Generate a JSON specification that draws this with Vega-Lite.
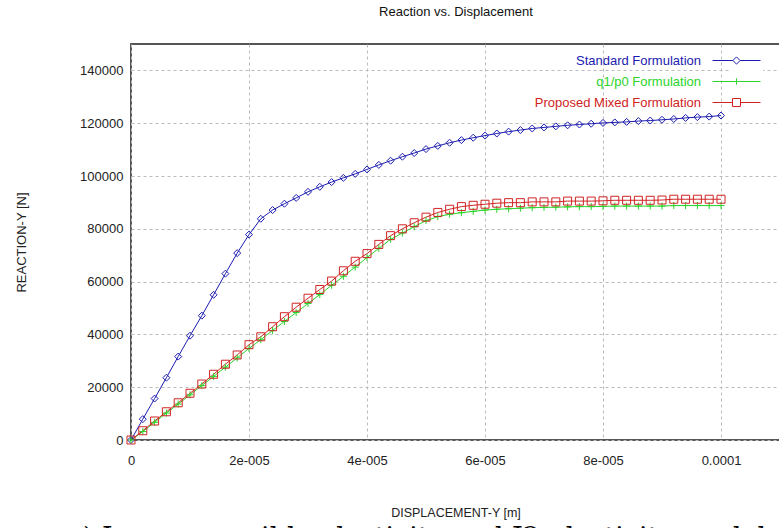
{
  "$schema": "https://vega.github.io/schema/vega-lite/v6.json",
  "autosize": "none",
  "width": 649,
  "height": 396,
  "padding": {"left": 131, "top": 44, "right": 0, "bottom": 88},
  "background": "white",
  "config": {
    "view": {"stroke": "#555555", "strokeWidth": 2},
    "font": "Liberation Sans",
    "legend": {
      "title": null,
      "orient": "none",
      "legendX": 599,
      "legendY": 10,
      "symbolSize": 64,
      "symbolStrokeWidth": 1,
      "labelFontSize": 13,
      "labelFont": "Liberation Sans",
      "labelLimit": 400,
      "labelAlign": "right",
      "labelOffset": -42,
      "rowPadding": 7,
      "padding": 0,
      "fillColor": "white"
    }
  },
  "title": {
    "text": ") Incompressible elasticity and J2 plasticity model",
    "orient": "bottom",
    "anchor": "start",
    "frame": "group",
    "dx": -48,
    "offset": 7,
    "font": "DejaVu Serif",
    "fontSize": 27,
    "fontWeight": "normal",
    "color": "#000000"
  },
  "data": {
    "values": [
      {"s": "Standard Formulation", "x": 0, "y": 0},
      {"s": "Standard Formulation", "x": 2e-6, "y": 7900},
      {"s": "Standard Formulation", "x": 4e-6, "y": 15700},
      {"s": "Standard Formulation", "x": 6e-6, "y": 23600},
      {"s": "Standard Formulation", "x": 8e-6, "y": 31600},
      {"s": "Standard Formulation", "x": 1e-5, "y": 39500},
      {"s": "Standard Formulation", "x": 1.2e-5, "y": 47100},
      {"s": "Standard Formulation", "x": 1.4e-5, "y": 55000},
      {"s": "Standard Formulation", "x": 1.6e-5, "y": 63000},
      {"s": "Standard Formulation", "x": 1.8e-5, "y": 70800},
      {"s": "Standard Formulation", "x": 2e-5, "y": 77800},
      {"s": "Standard Formulation", "x": 2.2e-5, "y": 83800},
      {"s": "Standard Formulation", "x": 2.4e-5, "y": 87100},
      {"s": "Standard Formulation", "x": 2.6e-5, "y": 89500},
      {"s": "Standard Formulation", "x": 2.8e-5, "y": 91700},
      {"s": "Standard Formulation", "x": 3e-5, "y": 94000},
      {"s": "Standard Formulation", "x": 3.2e-5, "y": 95900},
      {"s": "Standard Formulation", "x": 3.4e-5, "y": 97700},
      {"s": "Standard Formulation", "x": 3.6e-5, "y": 99300},
      {"s": "Standard Formulation", "x": 3.8e-5, "y": 100800},
      {"s": "Standard Formulation", "x": 4e-5, "y": 102500},
      {"s": "Standard Formulation", "x": 4.2e-5, "y": 104200},
      {"s": "Standard Formulation", "x": 4.4e-5, "y": 105800},
      {"s": "Standard Formulation", "x": 4.6e-5, "y": 107300},
      {"s": "Standard Formulation", "x": 4.8e-5, "y": 108700},
      {"s": "Standard Formulation", "x": 5e-5, "y": 110200},
      {"s": "Standard Formulation", "x": 5.2e-5, "y": 111400},
      {"s": "Standard Formulation", "x": 5.4e-5, "y": 112600},
      {"s": "Standard Formulation", "x": 5.6e-5, "y": 113600},
      {"s": "Standard Formulation", "x": 5.8e-5, "y": 114500},
      {"s": "Standard Formulation", "x": 6e-5, "y": 115300},
      {"s": "Standard Formulation", "x": 6.2e-5, "y": 116100},
      {"s": "Standard Formulation", "x": 6.4e-5, "y": 116800},
      {"s": "Standard Formulation", "x": 6.6e-5, "y": 117400},
      {"s": "Standard Formulation", "x": 6.8e-5, "y": 118000},
      {"s": "Standard Formulation", "x": 7e-5, "y": 118400},
      {"s": "Standard Formulation", "x": 7.2e-5, "y": 118800},
      {"s": "Standard Formulation", "x": 7.4e-5, "y": 119200},
      {"s": "Standard Formulation", "x": 7.6e-5, "y": 119500},
      {"s": "Standard Formulation", "x": 7.8e-5, "y": 119800},
      {"s": "Standard Formulation", "x": 8e-5, "y": 120100},
      {"s": "Standard Formulation", "x": 8.2e-5, "y": 120300},
      {"s": "Standard Formulation", "x": 8.4e-5, "y": 120500},
      {"s": "Standard Formulation", "x": 8.6e-5, "y": 120800},
      {"s": "Standard Formulation", "x": 8.8e-5, "y": 121000},
      {"s": "Standard Formulation", "x": 9e-5, "y": 121300},
      {"s": "Standard Formulation", "x": 9.2e-5, "y": 121600},
      {"s": "Standard Formulation", "x": 9.4e-5, "y": 122000},
      {"s": "Standard Formulation", "x": 9.6e-5, "y": 122300},
      {"s": "Standard Formulation", "x": 9.8e-5, "y": 122500},
      {"s": "Standard Formulation", "x": 1e-4, "y": 122900},
      {"s": "q1/p0 Formulation", "x": 0, "y": 0},
      {"s": "q1/p0 Formulation", "x": 2e-6, "y": 3200},
      {"s": "q1/p0 Formulation", "x": 4e-6, "y": 6700},
      {"s": "q1/p0 Formulation", "x": 6e-6, "y": 10200},
      {"s": "q1/p0 Formulation", "x": 8e-6, "y": 13600},
      {"s": "q1/p0 Formulation", "x": 1e-5, "y": 17100},
      {"s": "q1/p0 Formulation", "x": 1.2e-5, "y": 20600},
      {"s": "q1/p0 Formulation", "x": 1.4e-5, "y": 24100},
      {"s": "q1/p0 Formulation", "x": 1.6e-5, "y": 27600},
      {"s": "q1/p0 Formulation", "x": 1.8e-5, "y": 31100},
      {"s": "q1/p0 Formulation", "x": 2e-5, "y": 34700},
      {"s": "q1/p0 Formulation", "x": 2.2e-5, "y": 38000},
      {"s": "q1/p0 Formulation", "x": 2.4e-5, "y": 41500},
      {"s": "q1/p0 Formulation", "x": 2.6e-5, "y": 44900},
      {"s": "q1/p0 Formulation", "x": 2.8e-5, "y": 48300},
      {"s": "q1/p0 Formulation", "x": 3e-5, "y": 51700},
      {"s": "q1/p0 Formulation", "x": 3.2e-5, "y": 55100},
      {"s": "q1/p0 Formulation", "x": 3.4e-5, "y": 58600},
      {"s": "q1/p0 Formulation", "x": 3.6e-5, "y": 62000},
      {"s": "q1/p0 Formulation", "x": 3.8e-5, "y": 65500},
      {"s": "q1/p0 Formulation", "x": 4e-5, "y": 69100},
      {"s": "q1/p0 Formulation", "x": 4.2e-5, "y": 72600},
      {"s": "q1/p0 Formulation", "x": 4.4e-5, "y": 76000},
      {"s": "q1/p0 Formulation", "x": 4.6e-5, "y": 78400},
      {"s": "q1/p0 Formulation", "x": 4.8e-5, "y": 80800},
      {"s": "q1/p0 Formulation", "x": 5e-5, "y": 83100},
      {"s": "q1/p0 Formulation", "x": 5.2e-5, "y": 84600},
      {"s": "q1/p0 Formulation", "x": 5.4e-5, "y": 85500},
      {"s": "q1/p0 Formulation", "x": 5.6e-5, "y": 86100},
      {"s": "q1/p0 Formulation", "x": 5.8e-5, "y": 86600},
      {"s": "q1/p0 Formulation", "x": 6e-5, "y": 87100},
      {"s": "q1/p0 Formulation", "x": 6.2e-5, "y": 87400},
      {"s": "q1/p0 Formulation", "x": 6.4e-5, "y": 87600},
      {"s": "q1/p0 Formulation", "x": 6.6e-5, "y": 87800},
      {"s": "q1/p0 Formulation", "x": 6.8e-5, "y": 88000},
      {"s": "q1/p0 Formulation", "x": 7e-5, "y": 88100},
      {"s": "q1/p0 Formulation", "x": 7.2e-5, "y": 88200},
      {"s": "q1/p0 Formulation", "x": 7.4e-5, "y": 88300},
      {"s": "q1/p0 Formulation", "x": 7.6e-5, "y": 88400},
      {"s": "q1/p0 Formulation", "x": 7.8e-5, "y": 88400},
      {"s": "q1/p0 Formulation", "x": 8e-5, "y": 88500},
      {"s": "q1/p0 Formulation", "x": 8.2e-5, "y": 88600},
      {"s": "q1/p0 Formulation", "x": 8.4e-5, "y": 88600},
      {"s": "q1/p0 Formulation", "x": 8.6e-5, "y": 88600},
      {"s": "q1/p0 Formulation", "x": 8.8e-5, "y": 88600},
      {"s": "q1/p0 Formulation", "x": 9e-5, "y": 88600},
      {"s": "q1/p0 Formulation", "x": 9.2e-5, "y": 88800},
      {"s": "q1/p0 Formulation", "x": 9.4e-5, "y": 88800},
      {"s": "q1/p0 Formulation", "x": 9.6e-5, "y": 88800},
      {"s": "q1/p0 Formulation", "x": 9.8e-5, "y": 88800},
      {"s": "q1/p0 Formulation", "x": 1e-4, "y": 88800},
      {"s": "Proposed Mixed Formulation", "x": 0, "y": 0},
      {"s": "Proposed Mixed Formulation", "x": 2e-6, "y": 3500},
      {"s": "Proposed Mixed Formulation", "x": 4e-6, "y": 7200},
      {"s": "Proposed Mixed Formulation", "x": 6e-6, "y": 10700},
      {"s": "Proposed Mixed Formulation", "x": 8e-6, "y": 14100},
      {"s": "Proposed Mixed Formulation", "x": 1e-5, "y": 17700},
      {"s": "Proposed Mixed Formulation", "x": 1.2e-5, "y": 21200},
      {"s": "Proposed Mixed Formulation", "x": 1.4e-5, "y": 24900},
      {"s": "Proposed Mixed Formulation", "x": 1.6e-5, "y": 28700},
      {"s": "Proposed Mixed Formulation", "x": 1.8e-5, "y": 32200},
      {"s": "Proposed Mixed Formulation", "x": 2e-5, "y": 36100},
      {"s": "Proposed Mixed Formulation", "x": 2.2e-5, "y": 39100},
      {"s": "Proposed Mixed Formulation", "x": 2.4e-5, "y": 42900},
      {"s": "Proposed Mixed Formulation", "x": 2.6e-5, "y": 46700},
      {"s": "Proposed Mixed Formulation", "x": 2.8e-5, "y": 50300},
      {"s": "Proposed Mixed Formulation", "x": 3e-5, "y": 53700},
      {"s": "Proposed Mixed Formulation", "x": 3.2e-5, "y": 57000},
      {"s": "Proposed Mixed Formulation", "x": 3.4e-5, "y": 60200},
      {"s": "Proposed Mixed Formulation", "x": 3.6e-5, "y": 64100},
      {"s": "Proposed Mixed Formulation", "x": 3.8e-5, "y": 67700},
      {"s": "Proposed Mixed Formulation", "x": 4e-5, "y": 70600},
      {"s": "Proposed Mixed Formulation", "x": 4.2e-5, "y": 74100},
      {"s": "Proposed Mixed Formulation", "x": 4.4e-5, "y": 77400},
      {"s": "Proposed Mixed Formulation", "x": 4.6e-5, "y": 80000},
      {"s": "Proposed Mixed Formulation", "x": 4.8e-5, "y": 82300},
      {"s": "Proposed Mixed Formulation", "x": 5e-5, "y": 84400},
      {"s": "Proposed Mixed Formulation", "x": 5.2e-5, "y": 86200},
      {"s": "Proposed Mixed Formulation", "x": 5.4e-5, "y": 87400},
      {"s": "Proposed Mixed Formulation", "x": 5.6e-5, "y": 88400},
      {"s": "Proposed Mixed Formulation", "x": 5.8e-5, "y": 88900},
      {"s": "Proposed Mixed Formulation", "x": 6e-5, "y": 89300},
      {"s": "Proposed Mixed Formulation", "x": 6.2e-5, "y": 89700},
      {"s": "Proposed Mixed Formulation", "x": 6.4e-5, "y": 89900},
      {"s": "Proposed Mixed Formulation", "x": 6.6e-5, "y": 89900},
      {"s": "Proposed Mixed Formulation", "x": 6.8e-5, "y": 90200},
      {"s": "Proposed Mixed Formulation", "x": 7e-5, "y": 90200},
      {"s": "Proposed Mixed Formulation", "x": 7.2e-5, "y": 90200},
      {"s": "Proposed Mixed Formulation", "x": 7.4e-5, "y": 90500},
      {"s": "Proposed Mixed Formulation", "x": 7.6e-5, "y": 90500},
      {"s": "Proposed Mixed Formulation", "x": 7.8e-5, "y": 90500},
      {"s": "Proposed Mixed Formulation", "x": 8e-5, "y": 90600},
      {"s": "Proposed Mixed Formulation", "x": 8.2e-5, "y": 90800},
      {"s": "Proposed Mixed Formulation", "x": 8.4e-5, "y": 90800},
      {"s": "Proposed Mixed Formulation", "x": 8.6e-5, "y": 90800},
      {"s": "Proposed Mixed Formulation", "x": 8.8e-5, "y": 90800},
      {"s": "Proposed Mixed Formulation", "x": 9e-5, "y": 90900},
      {"s": "Proposed Mixed Formulation", "x": 9.2e-5, "y": 91200},
      {"s": "Proposed Mixed Formulation", "x": 9.4e-5, "y": 91200},
      {"s": "Proposed Mixed Formulation", "x": 9.6e-5, "y": 91200},
      {"s": "Proposed Mixed Formulation", "x": 9.8e-5, "y": 91200},
      {"s": "Proposed Mixed Formulation", "x": 1e-4, "y": 91200}
    ]
  },
  "layer": [
    {
      "layer": [
        {
          "mark": {"type": "line", "strokeWidth": 1},
          "encoding": {
            "x": {
              "field": "x", "type": "quantitative",
              "scale": {"domain": [0, 0.00011], "nice": false, "zero": false},
              "axis": {
                "values": [0, 0.00002, 0.00004, 0.00006, 0.00008, 0.0001],
                "labelExpr": "datum.value < 1e-7 ? '0' : datum.value > 0.00009 ? '0.0001' : format(datum.value * 100000, 'd') + 'e-005'",
                "labelFlush": false,
                "labelOverlap": false,
                "labelFontSize": 13,
                "labelColor": "#222222",
                "labelPadding": 14,
                "ticks": false,
                "domain": false,
                "grid": true,
                "gridDash": [3, 3],
                "gridColor": "#bbbbbb",
                "gridWidth": 1,
                "title": "DISPLACEMENT-Y [m]",
                "titleFontSize": 12.5,
                "titleFontWeight": "normal",
                "titleColor": "#222222",
                "titlePadding": 39
              }
            },
            "y": {
              "field": "y", "type": "quantitative",
              "scale": {"domain": [0, 150000], "nice": false},
              "axis": {
                "values": [0, 20000, 40000, 60000, 80000, 100000, 120000, 140000],
                "format": "d",
                "labelFontSize": 13,
                "labelColor": "#222222",
                "labelPadding": 8,
                "ticks": false,
                "domain": false,
                "grid": true,
                "gridDash": [3, 3],
                "gridColor": "#bbbbbb",
                "gridWidth": 1,
                "title": "REACTION-Y [N]",
                "titleFontSize": 13,
                "titleFontWeight": "normal",
                "titleColor": "#222222",
                "titlePadding": 51
              }
            },
            "color": {
              "field": "s", "type": "nominal",
              "scale": {
                "domain": ["Standard Formulation", "q1/p0 Formulation", "Proposed Mixed Formulation"],
                "range": ["#1c1cb0", "#2ad42a", "#d02424"]
              },
              "legend": {
                "encode": {
                  "labels": {"update": {"fill": {"signal": "scale('color', datum.value)"}}},
                  "symbols": {"update": {
                    "shape": {"signal": "datum.value === 'Standard Formulation' ? 'M-6,0H-0.9M0.9,0H6M0,-0.9L0.9,0L0,0.9L-0.9,0Z' : datum.value === 'q1/p0 Formulation' ? 'M-6,0H6M0,-0.8V0.8' : 'M-6,0H-1M1,0H6M-1,-1H1V1H-1Z'"},
                    "size": {"value": 64},
                    "fill": {"value": "transparent"},
                    "stroke": {"signal": "scale('color', datum.value)"},
                    "strokeWidth": {"value": 1},
                    "opacity": {"value": 1}
                  }}
                }
              }
            },
            "order": {"field": "x", "type": "quantitative"}
          }
        },
        {
          "transform": [{"filter": "datum.s === 'Standard Formulation'"}],
          "mark": {"type": "point", "filled": false, "strokeWidth": 1, "opacity": 1, "shape": "diamond", "size": 49},
          "encoding": {
            "x": {"field": "x", "type": "quantitative"},
            "y": {"field": "y", "type": "quantitative"},
            "color": {
              "field": "s", "type": "nominal",
              "legend": {
                "encode": {
                  "labels": {"update": {"fill": {"signal": "scale('color', datum.value)"}}},
                  "symbols": {"update": {
                    "shape": {"signal": "datum.value === 'Standard Formulation' ? 'M-6,0H-0.9M0.9,0H6M0,-0.9L0.9,0L0,0.9L-0.9,0Z' : datum.value === 'q1/p0 Formulation' ? 'M-6,0H6M0,-0.8V0.8' : 'M-6,0H-1M1,0H6M-1,-1H1V1H-1Z'"},
                    "size": {"value": 64},
                    "fill": {"value": "transparent"},
                    "stroke": {"signal": "scale('color', datum.value)"},
                    "strokeWidth": {"value": 1},
                    "opacity": {"value": 1}
                  }}
                }
              }
            }
          }
        },
        {
          "transform": [{"filter": "datum.s === 'q1/p0 Formulation'"}],
          "mark": {"type": "point", "filled": false, "strokeWidth": 1, "opacity": 1, "shape": "M-1,0H1M0,-1V1", "size": 49},
          "encoding": {
            "x": {"field": "x", "type": "quantitative"},
            "y": {"field": "y", "type": "quantitative"},
            "color": {
              "field": "s", "type": "nominal",
              "legend": {
                "encode": {
                  "labels": {"update": {"fill": {"signal": "scale('color', datum.value)"}}},
                  "symbols": {"update": {
                    "shape": {"signal": "datum.value === 'Standard Formulation' ? 'M-6,0H-0.9M0.9,0H6M0,-0.9L0.9,0L0,0.9L-0.9,0Z' : datum.value === 'q1/p0 Formulation' ? 'M-6,0H6M0,-0.8V0.8' : 'M-6,0H-1M1,0H6M-1,-1H1V1H-1Z'"},
                    "size": {"value": 64},
                    "fill": {"value": "transparent"},
                    "stroke": {"signal": "scale('color', datum.value)"},
                    "strokeWidth": {"value": 1},
                    "opacity": {"value": 1}
                  }}
                }
              }
            }
          }
        },
        {
          "transform": [{"filter": "datum.s === 'Proposed Mixed Formulation'"}],
          "mark": {"type": "point", "filled": false, "strokeWidth": 1, "opacity": 1, "shape": "square", "size": 64},
          "encoding": {
            "x": {"field": "x", "type": "quantitative"},
            "y": {"field": "y", "type": "quantitative"},
            "color": {
              "field": "s", "type": "nominal",
              "legend": {
                "encode": {
                  "labels": {"update": {"fill": {"signal": "scale('color', datum.value)"}}},
                  "symbols": {"update": {
                    "shape": {"signal": "datum.value === 'Standard Formulation' ? 'M-6,0H-0.9M0.9,0H6M0,-0.9L0.9,0L0,0.9L-0.9,0Z' : datum.value === 'q1/p0 Formulation' ? 'M-6,0H6M0,-0.8V0.8' : 'M-6,0H-1M1,0H6M-1,-1H1V1H-1Z'"},
                    "size": {"value": 64},
                    "fill": {"value": "transparent"},
                    "stroke": {"signal": "scale('color', datum.value)"},
                    "strokeWidth": {"value": 1},
                    "opacity": {"value": 1}
                  }}
                }
              }
            }
          }
        }
      ]
    },
    {
      "mark": {"type": "point", "opacity": 0},
      "encoding": {
        "x": {
          "field": "x", "type": "quantitative",
          "scale": {"domain": [0, 0.00011], "nice": false, "zero": false},
          "axis": {
            "orient": "top",
            "labels": false,
            "ticks": false,
            "domain": false,
            "grid": false,
            "title": "Reaction vs. Displacement",
            "titleFontSize": 13,
            "titleFontWeight": "normal",
            "titleColor": "#111111",
            "titlePadding": 26
          }
        },
        "y": {"field": "y", "type": "quantitative"}
      }
    }
  ],
  "resolve": {"scale": {"x": "independent"}}
}
